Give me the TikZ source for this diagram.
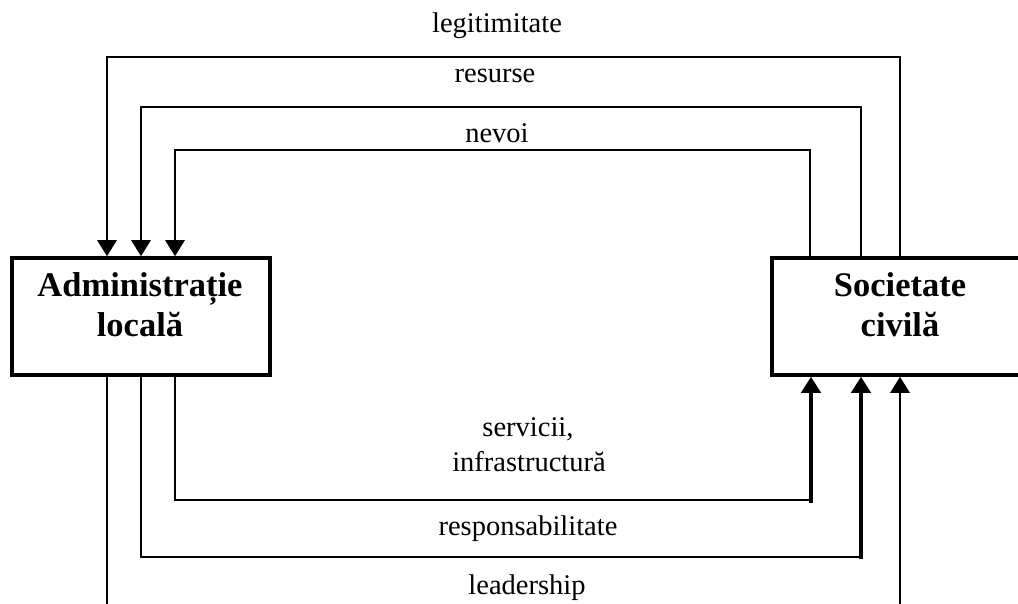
\documentclass[tikz,border=0pt]{standalone}
\usepackage{fontspec}
\setmainfont{Liberation Serif}
\usetikzlibrary{arrows.meta}
\begin{document}
\begin{tikzpicture}[x=1pt,y=-1pt,
  boxnode/.style={draw,line width=3.5pt,minimum width=258pt,minimum height=117pt,inner sep=0pt},
  flow/.style={line width=2.7pt},
  flowthick/.style={line width=4.5pt},
  tipped/.style={-{Triangle[width=19pt,length=16pt]}},
  lbl/.style={font=\fontsize{28.5}{30}\selectfont,anchor=base,inner sep=0pt},
  boxtitle/.style={font=\fontsize{34.5}{40}\selectfont\bfseries,anchor=base,inner sep=0pt}]
\useasboundingbox (0,0) rectangle (1018,604);
\clip (0,0) rectangle (1018,604);
\fill[white] (0,0) rectangle (1018,604);
% boxes
\node[boxnode] (adm) at (141,316.5) {};
\node[boxnode] (soc) at (901,316.5) {};
\node[boxtitle] (admA) at (140,297) {Administrație};
\node[boxtitle] (admB) at (140,337) {locală};
\node[boxtitle] (socA) at (900,297) {Societate};
\node[boxtitle] (socB) at (900,337) {civilă};
% top connectors
\coordinate (t1r) at (900,57);  \coordinate (t1l) at (107,57);
\coordinate (t2r) at (861,107); \coordinate (t2l) at (141,107);
\coordinate (t3r) at (810,150); \coordinate (t3l) at (175,150);
\draw[flow,tipped] (soc.north -| t1r) -- (t1r) -- (t1l) -- (adm.north -| t1l);
\draw[flow,tipped] (soc.north -| t2r) -- (t2r) -- (t2l) -- (adm.north -| t2l);
\draw[flow,tipped] (soc.north -| t3r) -- (t3r) -- (t3l) -- (adm.north -| t3l);
% bottom connectors
\coordinate (b1l) at (175,500); \coordinate (b1r) at (811,500); \coordinate (b1s) at (811,503);
\coordinate (b2l) at (141,557); \coordinate (b2r) at (861,557); \coordinate (b2s) at (861,559);
\coordinate (b3l) at (107,620); \coordinate (b3r) at (900,620);
\draw[flow] (adm.south -| b1l) -- (b1l) -- (b1r);
\draw[flowthick,tipped] (b1s) -- (soc.south -| b1s);
\draw[flow] (adm.south -| b2l) -- (b2l) -- (b2r);
\draw[flowthick,tipped] (b2s) -- (soc.south -| b2s);
\draw[flow,tipped] (adm.south -| b3l) -- (b3l) -- (b3r) -- (soc.south -| b3r);
% labels
\node[lbl] (lLeg) at (497,33) {legitimitate};
\node[lbl] (lRes) at (495,83) {resurse};
\node[lbl] (lNev) at (497,143) {nevoi};
\node[lbl] (lSer) at (528,436) {servicii,};
\node[lbl] (lInf) at (529,471) {infrastructură};
\node[lbl] (lResp) at (528,535) {responsabilitate};
\node[lbl] (lLead) at (527,594) {leadership};
\end{tikzpicture}
\end{document}
